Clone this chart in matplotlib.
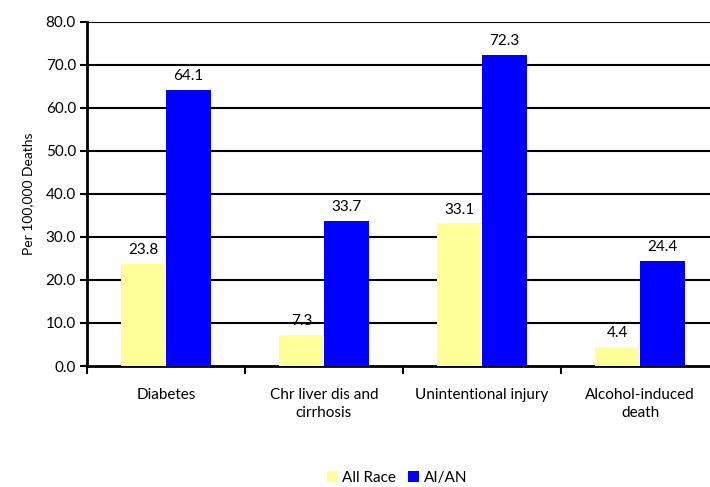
import numpy as np
import matplotlib.pyplot as plt

categories = ["Diabetes", "Chr liver dis and\ncirrhosis", "Unintentional injury", "Alcohol-induced\ndeath"]
all_race = [23.8, 7.3, 33.1, 4.4]
aian = [64.1, 33.7, 72.3, 24.4]
yticks = [0, 10, 20, 30, 40, 50, 60, 70, 80]

plt.rcParams['font.family'] = ['Lato', 'DejaVu Sans']

fig = plt.figure(figsize=(7.1, 4.87), dpi=100)
ax = fig.add_axes([87 / 710, 1 - 366 / 487, 623 / 710, (366 - 21.5) / 487])

x = np.arange(len(categories))
w = 0.285
xmax = -0.5 + 623 / 158

ax.set_xlim(-0.5, xmax)
ax.set_ylim(0, 80)

# horizontal gridlines, drawn as plain lines in data coordinates
for t in yticks[1:]:
    ax.plot([-0.5, xmax], [t, t], color='black', linewidth=1.5, solid_capstyle='butt', zorder=2)

b1 = ax.bar(x - w / 2, all_race, w, color='#FFFF99', label='All Race', zorder=3)
b2 = ax.bar(x + w / 2, aian, w, color='#0000FF', label='AI/AN', zorder=3)

for bars, vals in [(b1, all_race), (b2, aian)]:
    for r, v in zip(bars, vals):
        ax.annotate(f"{v:.1f}", (r.get_x() + r.get_width() / 2, v), xytext=(0, 5),
                    textcoords='offset points', ha='center', va='bottom', fontsize=11)

ax.set_xlim(-0.5, xmax)
ax.set_ylim(0, 80)
ax.set_yticks(yticks)
ax.set_yticklabels([f"{t:.1f}" for t in yticks], fontsize=11)
ax.tick_params(axis='y', length=5, width=1.5, pad=3)

# category ticks at the group boundaries, labels at the centres
ax.set_xticks(np.arange(len(categories)) - 0.5)
ax.set_xticklabels([])
ax.set_xticks(x, minor=True)
ax.set_xticklabels(categories, minor=True, fontsize=11, va='top', ha='center', linespacing=1.3)
ax.tick_params(axis='x', which='major', length=6, width=1.5)
ax.tick_params(axis='x', which='minor', length=0, pad=16)

for s in ['top', 'right']:
    ax.spines[s].set_visible(False)
ax.spines['left'].set_linewidth(2)
ax.spines['bottom'].set_linewidth(2)

ax.set_ylabel("Per 100,000 Deaths", fontsize=10, labelpad=8)

fig.legend(handles=[b1, b2], labels=['All Race', 'AI/AN'], loc='center',
           bbox_to_anchor=(397 / 710, 1 - 478 / 487), ncol=2, frameon=False,
           fontsize=11, handlelength=0.7, handleheight=0.7, handletextpad=0.3, columnspacing=0.8)

fig.savefig("out.png", dpi=100)
